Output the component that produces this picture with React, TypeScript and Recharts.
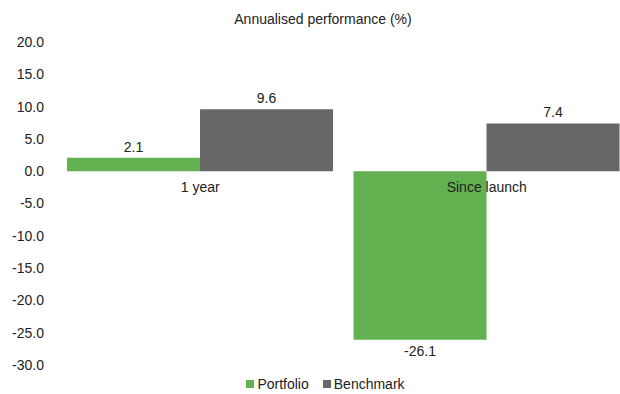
import React from "react";
import { BarChart, Bar, XAxis, YAxis, LabelList } from "recharts";

const categories = ["1 year", "Since launch"];
const portfolio = [2.1, -26.1];
const benchmark = [9.6, 7.4];
const yTicks = [-30, -25, -20, -15, -10, -5, 0, 5, 10, 15, 20];

const series = [
  { key: "portfolio", name: "Portfolio", color: "#62B050", values: portfolio },
  { key: "benchmark", name: "Benchmark", color: "#676767", values: benchmark },
];

const data = categories.map((cat, i) => ({
  cat,
  portfolio: portfolio[i],
  benchmark: benchmark[i],
}));

const FONT = "'Liberation Sans', Arial, sans-serif";
const TEXT = "#222";
const FS = 14;
const W = 640;
const H = 394;
const M = { top: 42, right: 10, left: 0, bottom: 28 };
const X_H = 1;
const Y_MIN = yTicks[0];
const Y_MAX = yTicks[yTicks.length - 1];
const PLOT_H = H - M.top - M.bottom - X_H;
const ZERO_Y = M.top + (Y_MAX / (Y_MAX - Y_MIN)) * PLOT_H;

function CategoryTick(props: any) {
  const { x, payload } = props;
  return (
    <text x={x} y={ZERO_Y + 21} textAnchor="middle" fontSize={FS} fill={TEXT} fontFamily={FONT}>
      {payload.value}
    </text>
  );
}

export default function App() {
  return (
    <div style={{ position: "fixed", top: 0, left: 0, width: 620, height: H, overflow: "hidden", fontFamily: FONT, background: "#fff" }}>
      <div style={{ position: "absolute", left: 0, top: 11, width: 646, textAlign: "center", fontSize: FS, lineHeight: "16px", color: TEXT, zIndex: 2 }}>
        Annualised performance (%)
      </div>
      <BarChart width={W} height={H} data={data} margin={M} barGap={0} barCategoryGap="3.5%">
        <YAxis
          domain={[Y_MIN, Y_MAX]}
          ticks={yTicks}
          width={57}
          axisLine={false}
          tickLine={false}
          tickMargin={7}
          tickFormatter={(v: number) => v.toFixed(1)}
          tick={{ fontSize: FS, fill: TEXT, fontFamily: FONT }}
        />
        {series.map((s) => (
          <Bar key={s.key} dataKey={s.key} name={s.name} fill={s.color} isAnimationActive={false}>
            <LabelList
              dataKey={s.key}
              position="top"
              offset={6}
              formatter={(v: any) => Number(v).toFixed(1)}
              style={{ fontSize: FS, fill: TEXT, fontFamily: FONT }}
            />
          </Bar>
        ))}
        <XAxis dataKey="cat" height={X_H} axisLine={false} tickLine={false} tick={<CategoryTick />} interval={0} />
      </BarChart>
      <div style={{ position: "absolute", top: 376, left: 0, width: 651, display: "flex", justifyContent: "center", alignItems: "center", fontSize: FS, color: TEXT, lineHeight: "16px", zIndex: 2 }}>
        {series.map((s, i) => (
          <div key={s.key} style={{ display: "flex", alignItems: "center", marginLeft: i ? 14 : 0 }}>
            <span style={{ width: 8, height: 8, background: s.color, marginRight: 3, display: "inline-block" }} />
            <span>{s.name}</span>
          </div>
        ))}
      </div>
    </div>
  );
}
